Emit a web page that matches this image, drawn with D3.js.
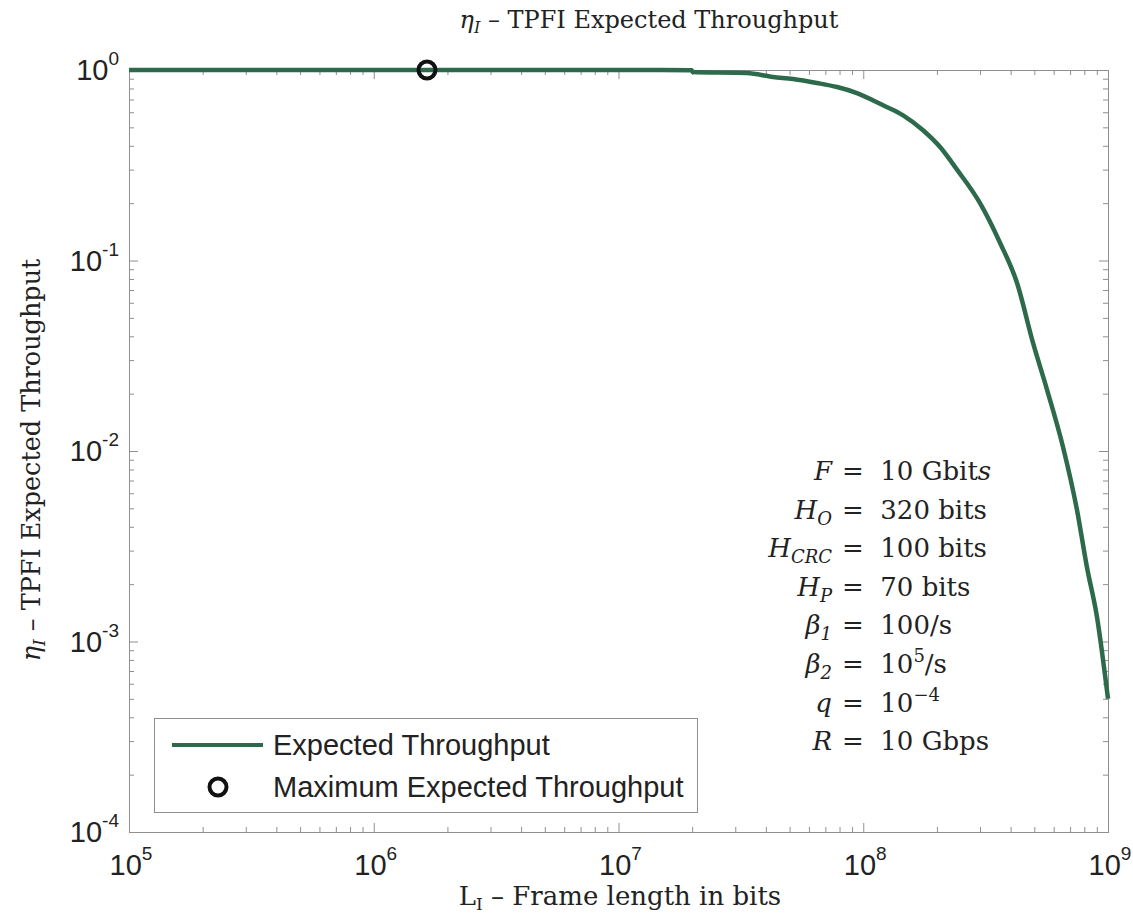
<!DOCTYPE html>
<html>
<head>
<meta charset="utf-8">
<script src="https://cdn.jsdelivr.net/npm/d3@7"></script>
<style>
  body { margin: 0; background: #fff; }
  svg { display: block; }
  .serif { font-family: "DejaVu Serif", "Liberation Serif", serif; }
  .sans { font-family: "Liberation Sans", Arial, sans-serif; }
</style>
</head>
<body>
<svg class="chart"></svg>
<script>
// frame length L_I (bits) and expected throughput
const frameLen = [1e5, 1e6, 1e7, 1.99e7, 2.01e7, 3.35e7, 4.28e7, 5.16e7, 6.47e7, 7.82e7, 9.42e7,
  1.20e8, 1.45e8, 1.75e8, 2.06e8, 2.42e8, 3.00e8, 3.62e8, 4.25e8, 4.94e8, 5.64e8,
  6.55e8, 7.47e8, 8.20e8, 9.02e8, 1e9];
const throughput = [1, 1, 1, 0.998, 0.976, 0.964, 0.919, 0.897, 0.855, 0.814, 0.757,
  0.655, 0.580, 0.484, 0.394, 0.299, 0.200, 0.124, 0.0762, 0.0369, 0.0209,
  0.0105, 0.0049, 0.00246, 0.00134, 0.00050];
const maxPoint = [1.65e6, 1];

const xTicks = [1e5, 1e6, 1e7, 1e8, 1e9];
const xTickExp = ["5", "6", "7", "8", "9"];
const yTicks = [1, 1e-1, 1e-2, 1e-3, 1e-4];
const yTickExp = ["0", "-1", "-2", "-3", "-4"];

const params = [
  { v: "F", sub: "", rhs: "=  10 Gbit", rhsIt: "s" },
  { v: "H", sub: "O", rhs: "=  320 bits" },
  { v: "H", sub: "CRC", rhs: "=  100 bits" },
  { v: "H", sub: "P", rhs: "=  70 bits" },
  { v: "β", sub: "1", rhs: "=  100/s" },
  { v: "β", sub: "2", rhs: "=  10", sup: "5", rhs2: "/s" },
  { v: "q", sub: "", rhs: "=  10", sup: "−4" },
  { v: "R", sub: "", rhs: "=  10 Gbps" }
];

const width = 1133, height = 916;
const margin = { top: 70, right: 25, bottom: 84, left: 129 };
const iw = width - margin.left - margin.right;
const ih = height - margin.top - margin.bottom;
const lineColor = "#2d6a4b";
const axisColor = "#8f8f8f";

const svg = d3.select(".chart").attr("width", width).attr("height", height);
const g = svg.append("g").attr("transform", `translate(${margin.left},${margin.top})`);

const x = d3.scaleLog().domain([1e5, 1e9]).range([0, iw]);
const y = d3.scaleLog().domain([1e-4, 1]).range([ih, 0]);

const minorX = [];
for (let e = 5; e < 9; e++) for (let k = 2; k <= 9; k++) minorX.push(k * Math.pow(10, e));
const minorY = [];
for (let e = -4; e < 0; e++) for (let k = 2; k <= 9; k++) minorY.push(k * Math.pow(10, e));

function styleAxis(sel) {
  sel.select(".domain").attr("stroke", axisColor).attr("stroke-width", 1);
  sel.selectAll(".tick line").attr("stroke", axisColor).attr("stroke-width", 1);
  sel.selectAll(".tick text").remove();
}

const axes = [
  [d3.axisBottom(x), `translate(0,${ih})`, xTicks, minorX],
  [d3.axisTop(x), null, xTicks, minorX],
  [d3.axisLeft(y), null, yTicks, minorY],
  [d3.axisRight(y), `translate(${iw},0)`, yTicks, minorY]
];
axes.forEach(([ax, tr, major, minor]) => {
  const a = g.append("g").call(ax.tickValues(major).tickSize(-9).tickFormat(""));
  if (tr) a.attr("transform", tr);
  styleAxis(a);
  const m = g.append("g").call(ax.tickValues(minor).tickSize(-5).tickFormat(""));
  if (tr) m.attr("transform", tr);
  styleAxis(m);
});

// tick labels with superscript exponents
xTicks.forEach((t, i) => {
  const tx = g.append("text").attr("class", "sans")
    .attr("x", x(t) + 2).attr("y", ih + 43)
    .attr("text-anchor", "middle").attr("font-size", 29).attr("fill", "#222");
  tx.append("tspan").text("10");
  tx.append("tspan").attr("dy", -15).attr("font-size", 19).text(xTickExp[i]);
});
yTicks.forEach((t, i) => {
  const ty = g.append("text").attr("class", "sans")
    .attr("x", -10).attr("y", y(t) + 10)
    .attr("text-anchor", "end").attr("font-size", 29).attr("fill", "#222");
  ty.append("tspan").text("10");
  ty.append("tspan").attr("dy", -15).attr("font-size", 19).text(yTickExp[i]);
});

// curve
const data = frameLen.map((d, i) => [d, throughput[i]]);
const line = d3.line().x(d => x(d[0])).y(d => y(d[1])).curve(d3.curveMonotoneX);
g.append("path").datum(data)
  .attr("d", line)
  .attr("fill", "none")
  .attr("stroke", lineColor)
  .attr("stroke-width", 4.5)
  .attr("stroke-linejoin", "round");

g.append("circle")
  .attr("cx", x(maxPoint[0])).attr("cy", y(maxPoint[1]))
  .attr("r", 8.5).attr("fill", "none")
  .attr("stroke", "#111").attr("stroke-width", 4);

// titles
const title = svg.append("text").attr("class", "serif")
  .attr("x", 649).attr("y", 28).attr("text-anchor", "middle")
  .attr("font-size", 24).attr("fill", "#222");
title.append("tspan").attr("font-style", "italic").text("η");
title.append("tspan").attr("font-style", "italic").attr("font-size", 16).attr("dy", 5).text("I");
title.append("tspan").attr("dy", -5).text(" – TPFI Expected Throughput");

const xl = svg.append("text").attr("class", "serif")
  .attr("x", 620).attr("y", 905).attr("text-anchor", "middle")
  .attr("font-size", 26).attr("fill", "#222");
xl.append("tspan").text("L");
xl.append("tspan").attr("font-size", 17).attr("dy", 5).text("I");
xl.append("tspan").attr("dy", -5).text(" – Frame length in bits");

const yl = svg.append("text").attr("class", "serif")
  .attr("transform", "translate(40,460) rotate(-90)")
  .attr("text-anchor", "middle").attr("font-size", 25.5).attr("fill", "#222");
yl.append("tspan").attr("font-style", "italic").text("η");
yl.append("tspan").attr("font-style", "italic").attr("font-size", 17).attr("dy", 5).text("I");
yl.append("tspan").attr("dy", -5).text(" – TPFI Expected Throughput");

// parameter block, aligned on "="
params.forEach((p, i) => {
  const by = 480 + i * 38.6;
  const lt = svg.append("text").attr("class", "serif")
    .attr("x", 832).attr("y", by).attr("text-anchor", "end")
    .attr("font-size", 26).attr("fill", "#222");
  lt.append("tspan").attr("font-style", "italic").text(p.v);
  if (p.sub) lt.append("tspan").attr("font-style", "italic").attr("font-size", 18).attr("dy", 6).text(p.sub);
  const rt = svg.append("text").attr("class", "serif")
    .attr("x", 842).attr("y", by).attr("font-size", 26).attr("fill", "#222")
    .style("white-space", "pre");
  rt.append("tspan").text(p.rhs);
  if (p.rhsIt) rt.append("tspan").attr("font-style", "italic").text(p.rhsIt);
  if (p.sup) rt.append("tspan").attr("font-size", 18).attr("dy", -11).text(p.sup);
  if (p.rhs2) rt.append("tspan").attr("dy", 11).text(p.rhs2);
});

// legend
const lg = svg.append("g");
lg.append("rect").attr("x", 154.5).attr("y", 718.5).attr("width", 543).attr("height", 94)
  .attr("fill", "#fff").attr("stroke", axisColor).attr("stroke-width", 1);
lg.append("line").attr("x1", 172).attr("x2", 263).attr("y1", 745).attr("y2", 745)
  .attr("stroke", lineColor).attr("stroke-width", 4);
lg.append("circle").attr("cx", 218).attr("cy", 787).attr("r", 8.5)
  .attr("fill", "none").attr("stroke", "#111").attr("stroke-width", 4);
lg.append("text").attr("class", "sans").attr("x", 273).attr("y", 755)
  .attr("font-size", 29).attr("fill", "#222").text("Expected Throughput");
lg.append("text").attr("class", "sans").attr("x", 273).attr("y", 797)
  .attr("font-size", 29).attr("fill", "#222").text("Maximum Expected Throughput");
</script>
</body>
</html>
